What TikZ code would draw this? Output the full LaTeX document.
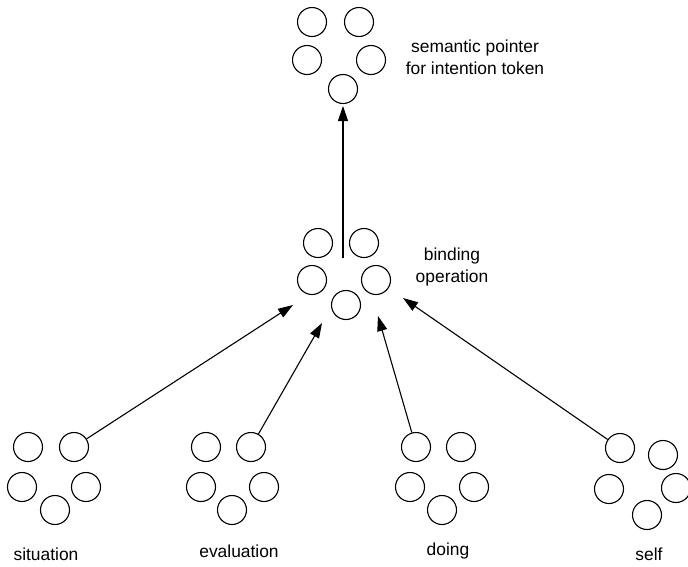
\documentclass[tikz,border=0pt]{standalone}
\usepackage{fontspec}
\setmainfont{Liberation Sans}
\usetikzlibrary{arrows.meta}
\begin{document}
\begin{tikzpicture}[x=1pt,y=-1pt,
  neuron/.style={circle,draw,line width=1.1pt,minimum size=29pt,inner sep=0pt},
  lbl/.style={font=\fontsize{17.4}{22}\selectfont,align=center,inner sep=0pt},
  conn/.style={line width=1.1pt,-{Triangle[length=15pt,width=10pt]}}]
\useasboundingbox (0,0) rectangle (688,566);
% top cluster
\node[neuron] (t1) at (312,22) {};
\node[neuron] (t2) at (359,22) {};
\node[neuron] (t3) at (307,60) {};
\node[neuron] (t4) at (371,60) {};
\node[neuron] (t5) at (343,89) {};
\node[lbl] (tl) at (475,57) {semantic pointer\\for intention token};
% binding cluster
\node[neuron] (b1) at (318,243) {};
\node[neuron] (b2) at (364,243) {};
\node[neuron] (b3) at (312,280) {};
\node[neuron] (b4) at (376,280) {};
\node[neuron] (b5) at (346,305) {};
\node[lbl] (bl) at (452,267) {binding\\operation};
% situation
\node[neuron] (s1) at (28,447) {};
\node[neuron] (s2) at (74,447) {};
\node[neuron] (s3) at (22,487) {};
\node[neuron] (s4) at (86,487) {};
\node[neuron] (s5) at (55,510) {};
\node[lbl,anchor=base] (sl) at (46,560) {situation};
% evaluation
\node[neuron] (e1) at (206,447) {};
\node[neuron] (e2) at (251,447) {};
\node[neuron] (e3) at (201,487) {};
\node[neuron] (e4) at (264,487) {};
\node[neuron] (e5) at (232,510) {};
\node[lbl,anchor=base] (el) at (239,557) {evaluation};
% doing
\node[neuron] (d1) at (416,447) {};
\node[neuron] (d2) at (461,447) {};
\node[neuron] (d3) at (410,487) {};
\node[neuron] (d4) at (474,487) {};
\node[neuron] (d5) at (442,510) {};
\node[lbl,anchor=base] (dl) at (448,555) {doing};
% self
\node[neuron] (f1) at (620,448) {};
\node[neuron] (f2) at (663,455) {};
\node[neuron] (f3) at (609,489) {};
\node[neuron] (f4) at (676,488) {};
\node[neuron] (f5) at (647,515) {};
\node[lbl,anchor=base] (fl) at (649,560) {self};
% arrow tips
\coordinate (vs) at (343,258);
\coordinate (vt) at (343,106);
\coordinate (ts) at (293,305);
\coordinate (te) at (322,323);
\coordinate (td) at (378,316);
\coordinate (tf) at (403,298);
\draw[conn] (vs) -- (vt);
\draw[conn] (s2) -- (ts);
\draw[conn] (e2) -- (te);
\draw[conn] (d1) -- (td);
\draw[conn] (f1) -- (tf);
\end{tikzpicture}
\end{document}
